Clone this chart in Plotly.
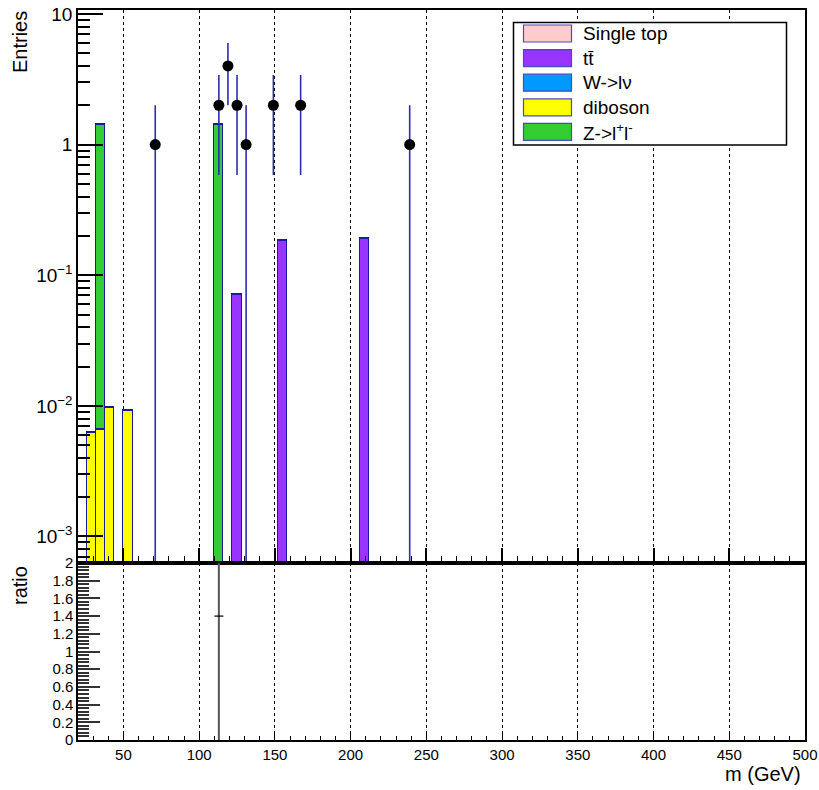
import plotly.graph_objects as go

# ---------------- data ----------------
bin_width = 6.0

# stacked MC (bin centres, bin contents)
diboson_x = [29, 35, 41, 53]
diboson_y = [0.0062, 0.0066, 0.0097, 0.0092]

zll_x = [35, 113]
zll_y = [1.43, 1.43]

ttbar_x = [125, 155, 209]
ttbar_y = [0.071, 0.186, 0.191]

wlnu_x = []
wlnu_y = []

singletop_x = []
singletop_y = []

# data points
data_x = [71, 113, 119, 125, 131, 149, 167, 239]
data_y = [1, 2, 4, 2, 1, 2, 2, 1]
data_err = [1.0, 1.414, 2.0, 1.414, 1.0, 1.414, 1.414, 1.0]

# ratio data / MC
ratio_x = [113]
ratio_y = [1.40]
ratio_err = [1.7]

# legend entries (top to bottom)
legend_names = ["Single top", "tt\u0304", "W->l\u03bd", "diboson", "Z->l<sup>+</sup>l<sup>-</sup>"]
legend_colors = ["#ffcccc", "#9933ff", "#0099ff", "#ffff00", "#33cc33"]

# axis ticks
main_y_tickvals = [1e-3, 1e-2, 1e-1, 1, 10]
main_y_ticktext = ["10<sup>\u22123</sup>", "10<sup>\u22122</sup>", "10<sup>\u22121</sup>", "1", "10"]

# ---------------- styling ----------------
W, H = 819, 790
FONT = "Liberation Sans, Arial, Helvetica, sans-serif"
OUTLINE = "#1a1a9c"
ERRCOL = "rgb(45,45,175)"

def px_x(p):
    return p / W

def px_y(p):
    return 1 - p / H

main_x_dom = [px_x(78), px_x(805)]
main_y_dom = [px_y(563), px_y(9.5)]
ratio_y_dom = [px_y(740), px_y(563)]

fig = go.Figure()

stack = [
    ("diboson", diboson_x, diboson_y, legend_colors[3]),
    ("Zll", zll_x, zll_y, legend_colors[4]),
    ("Wlnu", wlnu_x, wlnu_y, legend_colors[2]),
    ("ttbar", ttbar_x, ttbar_y, legend_colors[1]),
    ("Single top", singletop_x, singletop_y, legend_colors[0]),
]
for name, xs, ys, col in stack:
    fig.add_trace(go.Bar(
        x=xs, y=ys, width=[bin_width] * len(xs), name=name,
        marker=dict(color=col, line=dict(color=OUTLINE, width=1.5)),
        showlegend=False, xaxis="x", yaxis="y",
    ))

fig.add_trace(go.Scatter(
    x=data_x, y=data_y, mode="markers", name="data",
    marker=dict(color="black", size=11),
    error_y=dict(type="data", array=data_err, color=ERRCOL, thickness=1.6, width=0),
    showlegend=False, xaxis="x", yaxis="y",
))

fig.add_trace(go.Scatter(
    x=ratio_x, y=ratio_y, mode="markers", name="ratio",
    marker=dict(color="black", size=1),
    error_y=dict(type="data", array=ratio_err, color="#555555", thickness=2, width=0),
    error_x=dict(type="constant", value=bin_width / 2, color="black", thickness=1.2, width=0),
    showlegend=False, xaxis="x2", yaxis="y2",
))

# ---------------- legend (drawn box) ----------------
shapes = []
annotations = []
lx0, lx1, ly0, ly1 = 513.5, 786.5, 22.5, 145
shapes.append(dict(type="rect", xref="paper", yref="paper",
                   x0=px_x(lx0), x1=px_x(lx1), y0=px_y(ly1), y1=px_y(ly0),
                   line=dict(color="black", width=1.5), fillcolor="white", layer="above"))
for i, (nm, col) in enumerate(zip(legend_names, legend_colors)):
    yc = 33.5 + 24.6 * i
    shapes.append(dict(type="rect", xref="paper", yref="paper",
                       x0=px_x(523.5), x1=px_x(571.5), y0=px_y(yc + 8.5), y1=px_y(yc - 8.5),
                       line=dict(color="#4a4ac0", width=1.2), fillcolor=col, layer="above"))
    annotations.append(dict(text=nm, xref="paper", yref="paper", x=px_x(581), y=px_y(yc),
                            xanchor="left", yanchor="middle", showarrow=False,
                            font=dict(family=FONT, size=19, color="black")))

# axis titles
annotations.append(dict(text="Entries", xref="paper", yref="paper", x=px_x(20), y=px_y(42),
                        textangle=-90, xanchor="center", yanchor="middle", showarrow=False,
                        font=dict(family=FONT, size=20, color="black")))
annotations.append(dict(text="ratio", xref="paper", yref="paper", x=px_x(20), y=px_y(586),
                        textangle=-90, xanchor="center", yanchor="middle", showarrow=False,
                        font=dict(family=FONT, size=20, color="black")))
annotations.append(dict(text="m (GeV)", xref="paper", yref="paper", x=px_x(803), y=px_y(774),
                        xanchor="right", yanchor="middle", showarrow=False,
                        font=dict(family=FONT, size=20, color="black")))

minor_main_y = [m * 10 ** e for e in range(-4, 2) for m in range(2, 10)]

xcommon = dict(range=[20, 500], tick0=0, dtick=50, showgrid=True, gridcolor="black",
               griddash="dot", gridwidth=1, zeroline=False, showline=True, mirror=True,
               linecolor="black", linewidth=1.5, ticks="inside", tickcolor="black",
               domain=main_x_dom, automargin=False, ticklabeloverflow="allow")

fig.update_layout(
    template="none",
    width=W, height=H,
    margin=dict(l=0, r=0, t=0, b=0, pad=0, autoexpand=False),
    paper_bgcolor="white", plot_bgcolor="white",
    barmode="stack", bargap=0,
    font=dict(family=FONT, color="black"),
    xaxis=dict(**xcommon, anchor="y", showticklabels=False, ticklen=15, tickwidth=1.5,
               minor=dict(ticks="inside", ticklen=7, dtick=10, tickcolor="black", tickwidth=1.2,
                          showgrid=False)),
    yaxis=dict(type="log", range=[-3.203, 1.034], domain=main_y_dom, anchor="x",
               tickmode="array", tickvals=main_y_tickvals, ticktext=main_y_ticktext,
               ticklabeloverflow="allow",
               ticks="inside", ticklen=25, tickwidth=1.5, tickcolor="black", automargin=False,
               minor=dict(tickvals=minor_main_y, ticks="inside", ticklen=12, tickwidth=1.5,
                          tickcolor="black", showgrid=False),
               showgrid=False, zeroline=False, showline=True, mirror=True,
               linecolor="black", linewidth=1.5, tickfont=dict(size=19, family=FONT)),
    xaxis2=dict(**xcommon, anchor="y2", showticklabels=True, ticklen=8, tickwidth=1.2,
                minor=dict(ticks="inside", ticklen=4, dtick=10, tickcolor="black", tickwidth=1,
                           showgrid=False),
                tickfont=dict(size=15, family=FONT)),
    yaxis2=dict(range=[0, 2], domain=ratio_y_dom, anchor="x2", tick0=0, dtick=0.2,
                ticks="inside", ticklen=22, tickwidth=1.5, tickcolor="#333", automargin=False,
                ticklabeloverflow="allow",
                minor=dict(ticks="inside", ticklen=11, dtick=0.04, tickcolor="#333",
                           tickwidth=1.5, showgrid=False),
                showgrid=False, zeroline=False, showline=True, mirror=True,
                linecolor="black", linewidth=1.5, tickfont=dict(size=15, family=FONT)),
    shapes=shapes,
    annotations=annotations,
)

fig.write_html("out.html", config={"displayModeBar": False},
               post_script="document.body.style.margin='0px';document.body.style.overflow='hidden';")
